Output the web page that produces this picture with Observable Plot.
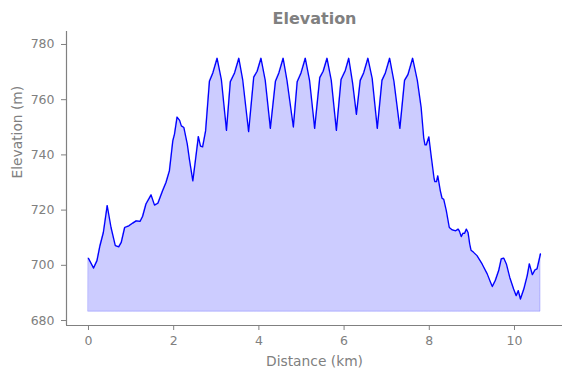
<!DOCTYPE html>
<html><head><meta charset="utf-8">
<script src="https://cdn.jsdelivr.net/npm/d3@7"></script>
<script src="https://cdn.jsdelivr.net/npm/@observablehq/plot@0.6"></script>
<style>body{margin:0;background:#fff}</style>
</head><body><div id="chart"></div>
<script>
const distance = [0.00,0.12,0.20,0.27,0.35,0.44,0.53,0.63,0.71,0.77,0.85,0.95,1.04,1.12,1.21,1.27,1.35,1.47,1.55,1.63,1.74,1.82,1.90,1.94,1.98,2.02,2.08,2.14,2.18,2.24,2.32,2.37,2.45,2.50,2.58,2.63,2.68,2.75,2.84,2.92,3.02,3.12,3.24,3.33,3.43,3.53,3.62,3.76,3.88,3.96,4.05,4.15,4.27,4.39,4.47,4.57,4.66,4.81,4.90,4.99,5.09,5.19,5.31,5.43,5.51,5.60,5.70,5.82,5.93,6.03,6.11,6.20,6.29,6.38,6.46,6.56,6.66,6.78,6.89,6.97,7.07,7.17,7.31,7.42,7.50,7.61,7.72,7.81,7.87,7.90,7.93,7.99,8.04,8.11,8.13,8.17,8.20,8.26,8.30,8.34,8.40,8.47,8.54,8.62,8.68,8.71,8.75,8.79,8.83,8.87,8.91,8.95,8.98,9.04,9.12,9.24,9.36,9.44,9.48,9.55,9.63,9.69,9.75,9.81,9.89,9.98,10.04,10.09,10.14,10.22,10.30,10.35,10.42,10.48,10.53,10.61];
const elevation = [702.5,699.0,701.7,707.1,711.9,721.6,713.7,707.1,706.7,708.3,713.7,714.3,715.3,716.1,715.9,717.7,722.2,725.5,721.8,722.5,727.0,730.0,734.2,739.6,745.1,747.5,753.7,752.5,750.5,749.9,743.9,738.4,730.6,736.6,746.6,743.2,742.9,748.7,766.7,769.7,775.0,767.3,748.9,766.5,769.7,775.0,767.3,748.4,768.2,770.3,775.0,767.0,749.6,766.7,769.7,775.0,767.0,750.1,766.5,769.7,775.0,767.0,749.6,768.0,770.3,775.0,767.0,748.9,767.3,770.6,775.0,766.1,754.7,767.0,769.7,775.0,767.7,749.6,767.0,769.7,775.0,766.7,749.6,767.0,769.1,775.0,767.0,757.1,746.2,743.6,743.6,746.5,740.2,731.8,730.3,730.3,732.4,727.0,724.3,723.9,719.8,713.7,712.8,712.5,713.1,712.3,710.4,711.6,711.6,713.1,711.9,707.7,705.5,704.7,703.5,700.5,696.9,693.8,692.3,694.5,698.1,702.3,702.6,700.5,695.6,691.4,689.0,690.8,687.8,691.4,696.3,700.5,696.6,698.3,698.7,704.1];
const xTicks = [0, 2, 4, 6, 8, 10];
const yTicks = [680, 700, 720, 740, 760, 780];
const baseElevation = 683.2;
const titleText = "Elevation";
const xLabel = "Distance (km)";
const yLabel = "Elevation (m)";

const data = distance.map((d, i) => ({d, e: elevation[i]}));
const gray = "#808080";
const xDomain = [-0.516, 11.127];
const yDomain = [678.2, 784.7];

const chart = Plot.plot({
  width: 571, height: 378,
  marginLeft: 66, marginRight: 9, marginTop: 31, marginBottom: 53,
  style: {fontFamily: "DejaVu Sans", fontSize: "12.5px", color: gray, background: "white"},
  x: {domain: xDomain},
  y: {domain: yDomain},
  marks: [
    Plot.areaY(data, {x: "d", y1: baseElevation, y2: "e", fill: "blue", fillOpacity: 0.2, stroke: "blue", strokeOpacity: 0.2, strokeWidth: 1}),
    Plot.lineY(data, {x: "d", y: "e", stroke: "blue", strokeWidth: 1.3}),
    Plot.ruleX([xDomain[0]], {stroke: gray, strokeWidth: 1.2}),
    Plot.ruleY([yDomain[0]], {stroke: gray, strokeWidth: 1.2}),
    Plot.axisX({ticks: xTicks, tickSize: 5, tickPadding: 6, stroke: gray, fill: gray, label: null, fontSize: 12.5}),
    Plot.axisY({ticks: yTicks, tickSize: 5, tickPadding: 7, stroke: gray, fill: gray, label: null, fontSize: 12.5}),
    Plot.text([xLabel], {frameAnchor: "bottom", lineAnchor: "middle", dy: 36, fontSize: 13.8, fill: gray}),
    Plot.text([yLabel], {frameAnchor: "left", dx: -49, rotate: -90, fontSize: 13.8, fill: gray}),
    Plot.text([titleText], {frameAnchor: "top", lineAnchor: "middle", dy: -13, fontSize: 16, fontWeight: "bold", fill: gray})
  ]
});
document.getElementById("chart").appendChild(chart);
</script>
</body></html>
